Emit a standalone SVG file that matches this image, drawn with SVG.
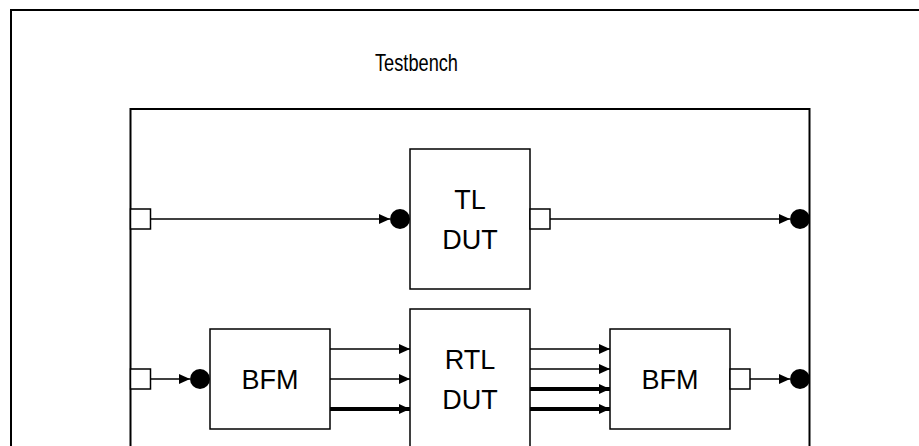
<svg xmlns="http://www.w3.org/2000/svg" width="919" height="446" viewBox="0 0 919 446">
  <style>
    .box { fill: #ffffff; stroke: #000000; stroke-width: 1.5; }
    .frame { fill: none; stroke: #000000; stroke-width: 2; }
    .port { fill: #ffffff; stroke: #000000; stroke-width: 1.5; }
    .dot { fill: #000000; }
    .wire { fill: none; stroke: #000000; stroke-width: 1.5; marker-end: url(#arr); }
    .bus { fill: none; stroke: #000000; stroke-width: 4; marker-end: url(#arr); }
    .lbl { font-family: "Liberation Sans", Arial, sans-serif; font-size: 27px; fill: #000000; text-anchor: middle; }
    .title { font-family: "Liberation Sans", Arial, sans-serif; font-size: 24px; fill: #000000; }
  </style>
  <defs>
    <marker id="arr" markerUnits="userSpaceOnUse" markerWidth="11" markerHeight="10" refX="11" refY="5" orient="auto">
      <path d="M0,0 L11,5 L0,10 z" fill="#000000"/>
    </marker>
  </defs>
  <rect width="919" height="446" fill="#ffffff"/>

  <g id="testbench">
    <rect class="frame" x="11" y="10" width="920" height="460"/>
    <text class="title" x="375" y="71" textLength="83" lengthAdjust="spacingAndGlyphs">Testbench</text>
  </g>

  <g id="harness">
    <rect class="frame" x="130.5" y="109" width="679" height="360"/>
    <rect class="port" x="130.5" y="209" width="20" height="20"/>
    <rect class="port" x="130.5" y="369" width="20" height="20"/>
    <circle class="dot" cx="800" cy="219" r="10"/>
    <circle class="dot" cx="800" cy="379" r="10"/>
  </g>

  <g id="tl_dut">
    <rect class="box" x="410" y="149" width="120" height="140"/>
    <rect class="port" x="530" y="209" width="20" height="20"/>
    <circle class="dot" cx="400" cy="219" r="10"/>
    <text class="lbl" x="470" y="209">TL</text>
    <text class="lbl" x="470" y="249">DUT</text>
  </g>

  <g id="bfm_in">
    <rect class="box" x="210" y="329" width="120" height="100"/>
    <circle class="dot" cx="200" cy="379" r="10"/>
    <text class="lbl" x="270" y="389">BFM</text>
  </g>

  <g id="rtl_dut">
    <rect class="box" x="410" y="309" width="120" height="160"/>
    <text class="lbl" x="470" y="369">RTL</text>
    <text class="lbl" x="470" y="409">DUT</text>
  </g>

  <g id="bfm_out">
    <rect class="box" x="610" y="329" width="120" height="100"/>
    <rect class="port" x="730" y="369" width="20" height="20"/>
    <text class="lbl" x="670" y="389">BFM</text>
  </g>

  <g id="connectors">
    <line class="wire" x1="150.5" y1="219" x2="390" y2="219"/>
    <line class="wire" x1="550" y1="219" x2="790" y2="219"/>
    <line class="wire" x1="150.5" y1="379" x2="190" y2="379"/>
    <line class="wire" x1="330" y1="349" x2="410" y2="349"/>
    <line class="wire" x1="330" y1="379" x2="410" y2="379"/>
    <line class="bus" x1="330" y1="409" x2="410" y2="409"/>
    <line class="wire" x1="530" y1="349" x2="610" y2="349"/>
    <line class="wire" x1="530" y1="369" x2="610" y2="369"/>
    <line class="bus" x1="530" y1="389" x2="610" y2="389"/>
    <line class="bus" x1="530" y1="409" x2="610" y2="409"/>
    <line class="wire" x1="750" y1="379" x2="790" y2="379"/>
  </g>
</svg>
